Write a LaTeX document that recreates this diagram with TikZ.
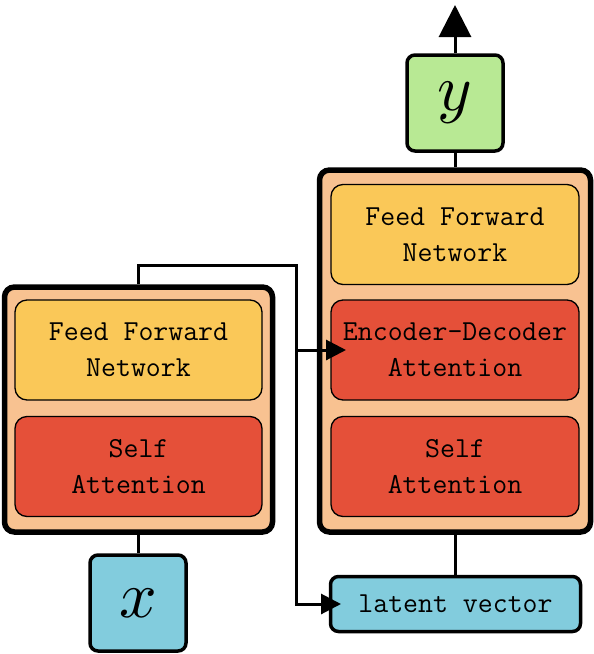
\documentclass[tikz,border=0pt]{standalone}
\usepackage{graphicx}
\usetikzlibrary{arrows.meta}
\definecolor{peach}{HTML}{F8C291}
\definecolor{ffnyellow}{HTML}{FAC858}
\definecolor{attred}{HTML}{E55039}
\definecolor{iocyan}{HTML}{82CCDD}
\definecolor{outgreen}{HTML}{B8E994}
\tikzset{
  outerbox/.style={draw, line width=5.5pt, rounded corners=10pt, fill=peach, inner sep=0pt},
  innerbox/.style={draw, line width=1.3pt, rounded corners=12pt, inner sep=0pt,
     minimum width=247pt, minimum height=100pt, align=center,
     font=\ttfamily\fontsize{29}{36}\selectfont},
  ffnbox/.style={innerbox, fill=ffnyellow},
  attbox/.style={innerbox, fill=attred},
  iobox/.style={draw, line width=3.5pt, rounded corners=8pt, inner sep=0pt,
     minimum width=96pt, minimum height=96pt},
  conn/.style={line width=3pt},
  tipsmall/.style={-{Triangle[length=20pt,width=20pt]}},
  tipbig/.style={-{Triangle[length=32pt,width=32pt]}}
}
\begin{document}
\begin{tikzpicture}[x=1pt,y=-1pt]
\useasboundingbox (0,0) rectangle (594,654);
% encoder
\node[outerbox, minimum width=268pt, minimum height=245pt] (enc) at (138.5,409.5) {};
\node[ffnbox] (encffn) at (138.5,350) {Feed Forward\\Network};
\node[attbox] (encsa) at (138.5,466.5) {Self\\Attention};
% decoder
\node[outerbox, minimum width=271pt, minimum height=362pt] (dec) at (455,351) {};
\node[ffnbox, minimum width=248pt] (decffn) at (455,234.5) {Feed Forward\\Network};
\node[attbox, minimum width=248pt] (decedatt) at (455,350) {Encoder-Decoder\\Attention};
\node[attbox, minimum width=248pt] (decsa) at (455,466.5) {Self\\Attention};
% io
\node[iobox, fill=iocyan] (xbox) at (138,603) {\scalebox{6.6}{$x$}};
\node[iobox, fill=outgreen] (ybox) at (455,103) {\scalebox{6.6}{$y$}};
\node[draw, line width=3.5pt, rounded corners=8pt, inner sep=0pt, fill=iocyan,
  minimum width=250pt, minimum height=55pt,
  font=\ttfamily\fontsize{29}{36}\selectfont] (lat) at (455.5,604) {latent vector};
% coordinates
\coordinate (turn) at (296,265);
\coordinate (latTip) at (341,604);
\coordinate (edTip) at (346,350);
\coordinate (top) at (455,5);
% connectors
\draw[conn] (xbox.north) -- (xbox.north |- enc.south);
\draw[conn, tipsmall] (enc.north) |- (turn) |- (latTip);
\draw[conn, tipsmall] (turn |- edTip) -- (edTip);
\draw[conn] (lat.north) -- (lat.north |- dec.south);
\draw[conn] (dec.north) -- (ybox.south);
\draw[conn, tipbig] (ybox.north) -- (top);
\end{tikzpicture}
\end{document}
